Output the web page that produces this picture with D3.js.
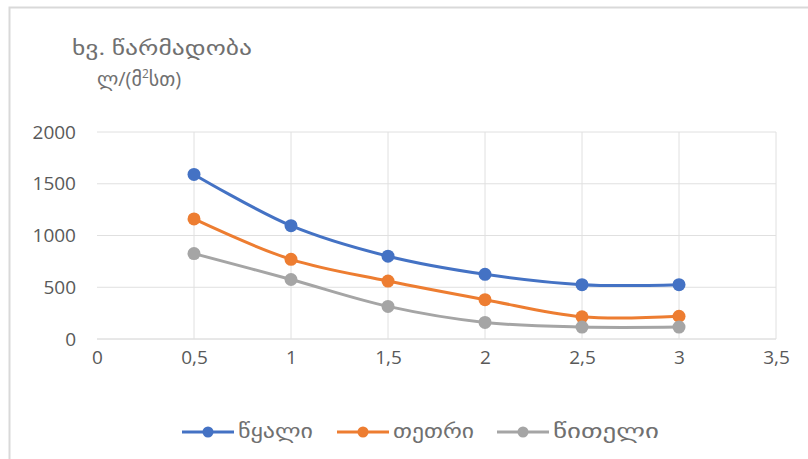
<!DOCTYPE html>
<html>
<head>
<meta charset="utf-8">
<script src="https://cdn.jsdelivr.net/npm/d3@7"></script>
<style>
  body { margin: 0; background: #fff; }
  svg { display: block; font-family: "Open Sans", "DejaVu Sans", sans-serif; }
</style>
</head>
<body>
<svg width="808" height="459"></svg>
<script>
// data
const xs = [0.5, 1, 1.5, 2, 2.5, 3]
const water = [1590, 1095, 800, 625, 525, 525]
const white = [1160, 770, 560, 380, 215, 220]
const red = [825, 575, 315, 160, 115, 115]
const seriesNames = ['წყალი', 'თეთრი', 'წითელი']
const xTicks = [0, 0.5, 1, 1.5, 2, 2.5, 3, 3.5]
const yTicks = [0, 500, 1000, 1500, 2000]

const series = [
  { name: seriesNames[0], values: water, color: '#4472C4' },
  { name: seriesNames[1], values: white, color: '#ED7D31' },
  { name: seriesNames[2], values: red, color: '#A5A5A5' }
]

const svg = d3.select('svg')

// chart frame (only top and left edges show in the picture)
svg.append('path')
  .attr('d', 'M9.5,459 V7.5 H808')
  .attr('fill', 'none')
  .attr('stroke', '#d9d9d9')
  .attr('stroke-width', 2)

const x = d3.scaleLinear().domain([0, 3.5]).range([97, 776])
const y = d3.scaleLinear().domain([0, 2000]).range([339, 132])

// gridlines
svg.append('g').selectAll('line')
  .data(yTicks)
  .enter().append('line')
  .attr('x1', x(0)).attr('x2', x(3.5))
  .attr('y1', d => y(d)).attr('y2', d => y(d))
  .attr('stroke', d => d === 0 ? '#d0d0d0' : '#e0e0e0')
  .attr('stroke-width', 1)

svg.append('g').selectAll('line')
  .data(xTicks.slice(1))
  .enter().append('line')
  .attr('x1', d => x(d)).attr('x2', d => x(d))
  .attr('y1', y(2000)).attr('y2', y(0))
  .attr('stroke', '#e0e0e0')
  .attr('stroke-width', 1)

// tick labels, no axis lines (excel style)
const fmt = d => String(d).replace('.', ',')

const yAxis = d3.axisLeft(y).tickValues(yTicks).tickFormat(d => String(d)).tickSize(0).tickPadding(21)
const yg = svg.append('g').attr('transform', `translate(${x(0)},0)`).call(yAxis)
yg.select('.domain').remove()
yg.selectAll('text').attr('font-size', 19).attr('fill', '#595959')
  .attr('font-family', '"Open Sans", sans-serif')

const xAxis = d3.axisBottom(x).tickValues(xTicks).tickFormat(fmt).tickSize(0).tickPadding(12)
const xg = svg.append('g').attr('transform', `translate(0,${y(0)})`).call(xAxis)
xg.select('.domain').remove()
xg.selectAll('text').attr('font-size', 19).attr('fill', '#595959')
  .attr('font-family', '"Open Sans", sans-serif')

// y axis title, two lines
svg.append('text')
  .attr('x', 72).attr('y', 55)
  .attr('font-size', 20).attr('fill', '#707070')
  .attr('textLength', 180).attr('lengthAdjust', 'spacingAndGlyphs')
  .text('ხვ. წარმადობა')
const t2 = svg.append('text')
  .attr('x', 97).attr('y', 86)
  .attr('font-size', 20).attr('fill', '#707070')
t2.append('tspan').text('ლ/(მ')
t2.append('tspan').attr('font-size', 12).attr('dy', -8).text('2')
t2.append('tspan').attr('dy', 8).text('სთ)')

// smoothed lines + markers
const line = d3.line()
  .x((d, i) => x(xs[i]))
  .y(d => y(d))
  .curve(d3.curveCatmullRom.alpha(0.5))

series.forEach(s => {
  svg.append('path')
    .datum(s.values)
    .attr('d', line)
    .attr('fill', 'none')
    .attr('stroke', s.color)
    .attr('stroke-width', 3)

  svg.append('g').selectAll('circle')
    .data(s.values)
    .enter().append('circle')
    .attr('cx', (d, i) => x(xs[i]))
    .attr('cy', d => y(d))
    .attr('r', 6.5)
    .attr('fill', s.color)
})

// legend
const legendX = [182, 337, 497]
const legendW = [75, 81, 106]
const lg = svg.append('g').attr('transform', 'translate(0,432)')
series.forEach((s, i) => {
  const g = lg.append('g').attr('transform', `translate(${legendX[i]},0)`)
  g.append('line').attr('x1', 0).attr('x2', 52).attr('stroke', s.color).attr('stroke-width', 3)
  g.append('circle').attr('cx', 26).attr('r', 5.5).attr('fill', s.color)
  g.append('text').attr('x', 56).attr('y', 6)
    .attr('font-size', 19).attr('fill', '#707070')
    .attr('textLength', legendW[i]).attr('lengthAdjust', 'spacingAndGlyphs')
    .text(s.name)
})
</script>
</body>
</html>
